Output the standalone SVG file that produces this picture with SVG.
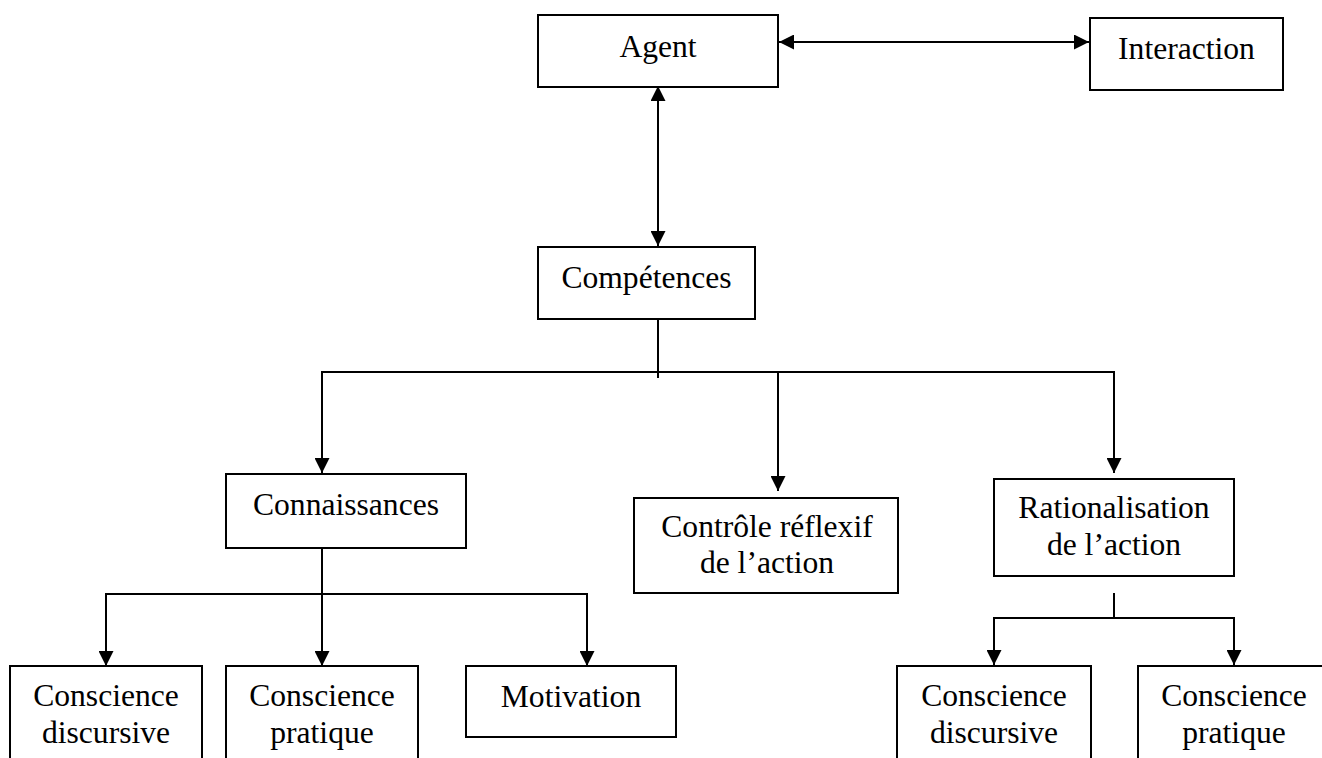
<svg xmlns="http://www.w3.org/2000/svg" width="1322" height="758" viewBox="0 0 1322 758">
  <style>
    .box { fill: #ffffff; stroke: #000000; stroke-width: 2; }
    .lbl { font-family: "Liberation Serif", "Times New Roman", serif; font-size: 31.6px; fill: #000000; text-anchor: middle; }
    .wire { fill: none; stroke: #000000; stroke-width: 2; }
    .one { marker-end: url(#head); }
    .two { marker-start: url(#head); marker-end: url(#head); }
  </style>
  <defs>
    <marker id="head" viewBox="0 0 15 15" markerWidth="15" markerHeight="15" refX="15" refY="7.5" orient="auto-start-reverse" markerUnits="userSpaceOnUse">
      <path d="M0,0 L15,7.5 L0,15 Z" fill="#000000"/>
    </marker>
  </defs>
  <rect width="1322" height="758" fill="#ffffff"/>

  <g id="connectors">
    <!-- Agent <-> Interaction -->
    <line class="wire two" x1="779" y1="42" x2="1089" y2="42"/>
    <!-- Agent <-> Compétences -->
    <line class="wire two" x1="658" y1="86" x2="658" y2="246"/>
    <!-- Compétences trunk and branches -->
    <line class="wire" x1="658" y1="306" x2="658" y2="378"/>
    <path class="wire two" d="M322,473 V372 H1114 V473"/>
    <line class="wire one" x1="778" y1="372" x2="778" y2="491"/>
    <!-- Connaissances branches -->
    <line class="wire one" x1="322" y1="546" x2="322" y2="666"/>
    <path class="wire two" d="M106,666 V594 H587 V666"/>
    <!-- Rationalisation branches -->
    <line class="wire" x1="1114" y1="593" x2="1114" y2="618"/>
    <path class="wire two" d="M994,665 V618 H1234 V665"/>
  </g>

  <g id="agent">
    <rect class="box" x="538" y="15" width="240" height="72"/>
    <text class="lbl" x="658" y="57">Agent</text>
  </g>
  <g id="interaction">
    <rect class="box" x="1090" y="18" width="193" height="72"/>
    <text class="lbl" x="1186.5" y="59">Interaction</text>
  </g>
  <g id="competences">
    <rect class="box" x="538" y="247" width="217" height="72"/>
    <text class="lbl" x="646.5" y="288">Compétences</text>
  </g>
  <g id="connaissances">
    <rect class="box" x="226" y="474" width="240" height="74"/>
    <text class="lbl" x="346" y="515">Connaissances</text>
  </g>
  <g id="controle">
    <rect class="box" x="634" y="498" width="264" height="95"/>
    <text class="lbl" x="767" y="537">Contrôle réflexif</text>
    <text class="lbl" x="767" y="573">de l’action</text>
  </g>
  <g id="rationalisation">
    <rect class="box" x="994" y="479" width="240" height="97"/>
    <text class="lbl" x="1114" y="518">Rationalisation</text>
    <text class="lbl" x="1114" y="555">de l’action</text>
  </g>
  <g id="conscience-discursive-1">
    <rect class="box" x="10" y="666" width="192" height="110"/>
    <text class="lbl" x="106" y="706">Conscience</text>
    <text class="lbl" x="106" y="743">discursive</text>
  </g>
  <g id="conscience-pratique-1">
    <rect class="box" x="226" y="666" width="192" height="110"/>
    <text class="lbl" x="322" y="706">Conscience</text>
    <text class="lbl" x="322" y="743">pratique</text>
  </g>
  <g id="motivation">
    <rect class="box" x="466" y="666" width="210" height="71"/>
    <text class="lbl" x="571" y="707">Motivation</text>
  </g>
  <g id="conscience-discursive-2">
    <rect class="box" x="897" y="666" width="194" height="110"/>
    <text class="lbl" x="994" y="706">Conscience</text>
    <text class="lbl" x="994" y="743">discursive</text>
  </g>
  <g id="conscience-pratique-2">
    <rect class="box" x="1138" y="666" width="194" height="110"/>
    <text class="lbl" x="1234" y="706">Conscience</text>
    <text class="lbl" x="1234" y="743">pratique</text>
  </g>
</svg>
